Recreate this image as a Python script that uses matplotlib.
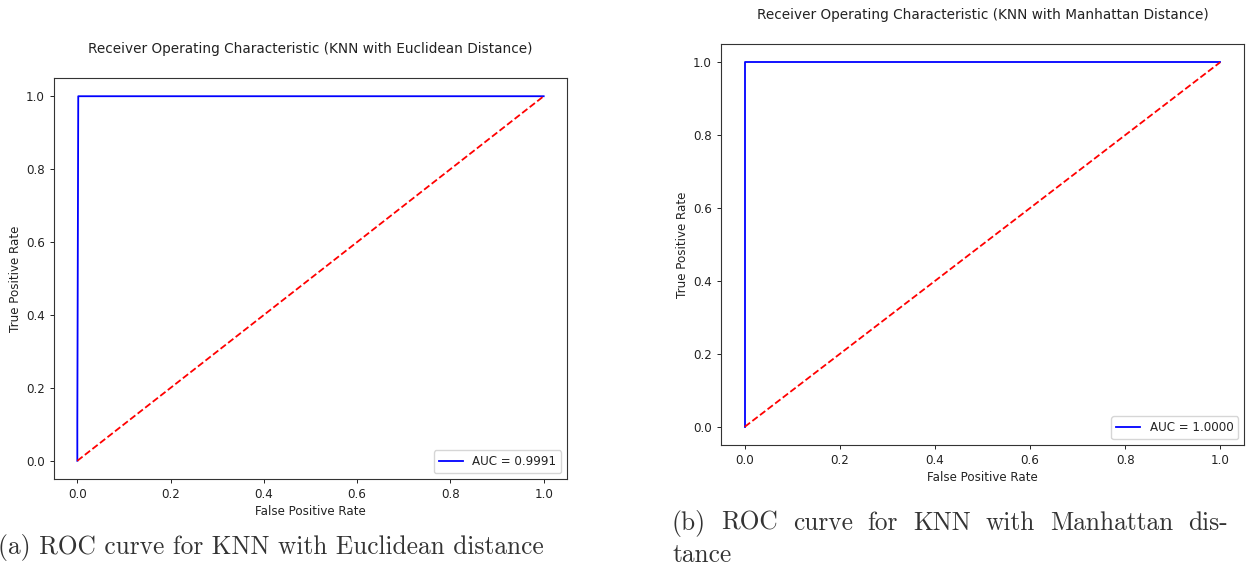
import numpy as np
import matplotlib
matplotlib.use("Agg")
import matplotlib.pyplot as plt

# ROC points for the two distance metrics
fpr_euclid = [0.0, 0.0, 0.002, 1.0]
tpr_euclid = [0.0, 0.1, 1.0, 1.0]
fpr_manhattan = [0.0, 0.0, 1.0]
tpr_manhattan = [0.0, 1.0, 1.0]
chance = [0.0, 1.0]

titles = ["Receiver Operating Characteristic (KNN with Euclidean Distance)",
          "Receiver Operating Characteristic (KNN with Manhattan Distance)"]
caption_a = "(a) ROC curve for KNN with Euclidean distance"
caption_b1 = "(b) ROC curve for KNN with Manhattan dis-"
caption_b2 = "tance"

W, H = 1249, 569
fig = plt.figure(figsize=(W / 100, H / 100), dpi=100)
fs = 8.6
ink = "#222222"
plt.rcParams["text.color"] = ink
plt.rcParams["axes.labelcolor"] = ink
plt.rcParams["xtick.color"] = ink
plt.rcParams["ytick.color"] = ink
plt.rcParams["axes.edgecolor"] = "#333333"


def px_axes(x0, y0, x1, y1):
    # pixel box (top-left origin) -> figure fraction
    return fig.add_axes([x0 / W, 1 - y1 / H, (x1 - x0) / W, (y1 - y0) / H])


def roc_panel(ax, fpr, tpr, title):
    auc = np.trapezoid(tpr, fpr)
    ax.plot(fpr, tpr, color="blue", lw=1.3, label="AUC = %.4f" % auc)
    ax.plot(chance, chance, color="red", lw=1.3, linestyle="--")
    ax.set_title(title, fontsize=9.8, pad=18)
    ax.set_xlabel("False Positive Rate", fontsize=fs, labelpad=3)
    ax.set_ylabel("True Positive Rate", fontsize=fs, labelpad=3)
    ax.tick_params(labelsize=fs, width=0.7, length=3)
    for s in ax.spines.values():
        s.set_linewidth(0.8)
    ax.legend(loc="lower right", fontsize=fs)


ax1 = px_axes(54, 78, 567, 479)
roc_panel(ax1, fpr_euclid, tpr_euclid, titles[0])

ax2 = px_axes(721, 44, 1244, 445)
roc_panel(ax2, fpr_manhattan, tpr_manhattan, titles[1])

cap_kw = dict(fontfamily="cmr10", fontsize=18.3, color="#333333")
fig.text(-2 / W, 1 - 554 / H, caption_a, ha="left", va="baseline", **cap_kw)

# justified first line of caption (b)
words = caption_b1.split()
fig.canvas.draw()
r = fig.canvas.get_renderer()
texts = [fig.text(0, 1 - 530 / H, w_, ha="left", va="baseline", **cap_kw) for w_ in words]
widths = [t.get_window_extent(r).width for t in texts]
left, right = 672, 1228
gap = (right - left - sum(widths)) / (len(words) - 1)
x = left
for t, w_ in zip(texts, widths):
    t.set_x(x / W)
    x += w_ + gap
fig.text(left / W, 1 - 562 / H, caption_b2, ha="left", va="baseline", **cap_kw)

fig.savefig("out.png", dpi=100)
